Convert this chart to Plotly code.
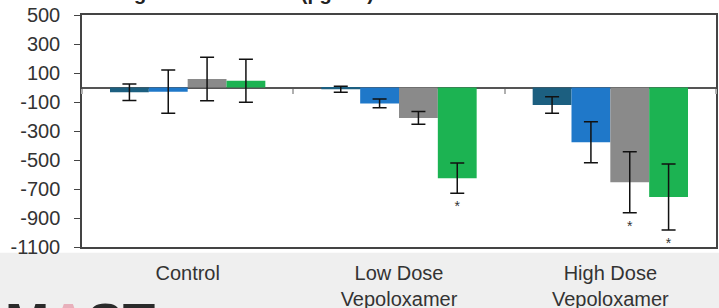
import plotly.graph_objects as go

categories = ["Control", "Low Dose<br>Vepoloxamer", "High Dose<br>Vepoloxamer"]
series_names = ["Day 1", "Day 2", "Day 3", "Day 4"]
means_s1 = [-33, -12, -120]
means_s2 = [-29, -110, -378]
means_s3 = [58, -210, -653]
means_s4 = [46, -625, -755]
err_s1 = [57, 20, 57]
err_s2 = [149, 30, 141]
err_s3 = [150, 44, 210]
err_s4 = [148, 105, 228]
sig_s3 = ["", "", "*"]
sig_s4 = ["", "*", "*"]
y_ticks = [500, 300, 100, -100, -300, -500, -700, -900, -1100]

colors = ["#1c5f80", "#1f78c9", "#8a8a8a", "#1cb352"]
means = [means_s1, means_s2, means_s3, means_s4]
errs = [err_s1, err_s2, err_s3, err_s4]
sigs = [["", "", ""], ["", "", ""], sig_s3, sig_s4]

FONT = "Liberation Sans, Arial, sans-serif"
fig = go.Figure()
for i in range(4):
    fig.add_trace(go.Bar(
        x=categories, y=means[i], name=series_names[i],
        marker=dict(color=colors[i], line=dict(width=0)),
        offsetgroup=str(i),
        error_y=dict(type="data", array=errs[i], visible=True,
                     color="#111111", thickness=1.5, width=7),
    ))
for i in range(4):
    if any(sigs[i]):
        fig.add_trace(go.Scatter(
            x=categories, y=[m - e - 100 for m, e in zip(means[i], errs[i])],
            mode="text", text=sigs[i], textposition="middle center",
            textfont=dict(size=14, color="#333333", family=FONT),
            offsetgroup=str(i), showlegend=False, hoverinfo="skip",
        ))
# invisible trace for the category-boundary ticks on the zero line
fig.add_trace(go.Scatter(x=categories, y=[None] * 3, xaxis="x2",
                         mode="markers", showlegend=False, hoverinfo="skip"))

fig.update_layout(
    width=719, height=308,
    margin=dict(l=82, r=3, t=15, b=61, autoexpand=False),
    barmode="group", bargap=0.265, bargroupgap=0,
    scattermode="group", scattergap=0.265,
    showlegend=False,
    paper_bgcolor="white", plot_bgcolor="white",
    font=dict(family=FONT, color="#333333"),
    shapes=[dict(type="rect", xref="paper", yref="paper",
                 x0=-0.2, x1=1.01, y0=-0.3, y1=-0.025,
                 fillcolor="#efefef", line=dict(width=0), layer="below")],
    annotations=[
        dict(text="<b>Change from Baseline (pg/mL)</b>", xref="paper", yref="paper",
             x=0.0, y=1.04, xanchor="left", yanchor="bottom", showarrow=False,
             font=dict(size=20, color="#222222", family=FONT)),
        dict(text="<b>M<span style='color:#e8b0bb'>A</span>ST</b>",
             xref="paper", yref="paper",
             x=-0.125, y=-0.19, xanchor="left", yanchor="top", showarrow=False,
             font=dict(size=53, color="#2a2a2a", family=FONT)),
    ],
    xaxis=dict(showline=True, linecolor="#444444", linewidth=1.5,
               mirror=True, ticks="", showgrid=False, automargin=False,
               tickfont=dict(size=20, color="#333333"), ticklabelstandoff=7),
    xaxis2=dict(overlaying="x", anchor="free", position=1100 / 1600,
                matches="x", ticks="outside", tickson="boundaries", ticklen=5,
                tickcolor="#b0b0b0", tickwidth=1.5, showticklabels=False,
                showline=False, showgrid=False, zeroline=False, automargin=False),
    yaxis=dict(range=[-1100, 500], tickvals=y_ticks,
               ticktext=[str(v) for v in y_ticks],
               ticks="outside", ticklen=6, automargin=False,
               tickcolor="#444444", showline=True, linecolor="#444444",
               linewidth=1.5, mirror=True, showgrid=False, zeroline=True,
               zerolinecolor="#555555", zerolinewidth=1.5,
               tickfont=dict(size=20, color="#333333"), ticklabelstandoff=10),
)
fig.write_html("out.html", config={"displayModeBar": False},
               post_script="document.body.style.margin='0px';document.body.style.overflow='hidden';")
